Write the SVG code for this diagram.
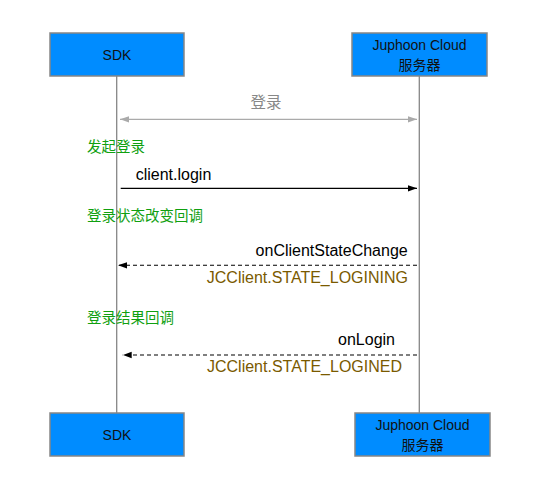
<svg xmlns="http://www.w3.org/2000/svg" width="556" height="492" viewBox="0 0 556 492">
<defs>
<style>
.box{fill:#008cff;stroke:#868686;stroke-width:1.5}
.bt{font-family:"Liberation Sans","Noto Sans CJK SC",sans-serif;font-size:14px;fill:#111;text-anchor:middle}
.life{stroke:#868686;stroke-width:1.3;fill:none}
.msg{font-family:"Liberation Sans","Noto Sans CJK SC",sans-serif;font-size:16px;fill:#000}
.st{font-family:"Liberation Sans","Noto Sans CJK SC",sans-serif;font-size:16px;fill:#7a5a00;text-anchor:end}
.note{font-family:"Noto Sans CJK SC","Liberation Sans",sans-serif;font-size:14.5px;fill:#10a010}
</style>
<marker id="ah" viewBox="0 0 10 10" refX="10" refY="5" markerWidth="9" markerHeight="9" markerUnits="userSpaceOnUse" orient="auto-start-reverse"><path d="M0,1.5 L10,5 L0,8.5 z" fill="#000"/></marker>
<marker id="ahg" viewBox="0 0 10 10" refX="10" refY="5" markerWidth="9" markerHeight="9" markerUnits="userSpaceOnUse" orient="auto-start-reverse"><path d="M0,1.5 L10,5 L0,8.5 z" fill="#aaa"/></marker>
</defs>
<rect width="556" height="492" fill="#fff"/>
<g id="lifelines">
<line class="life" x1="116.7" y1="76" x2="116.7" y2="413"/>
<line class="life" x1="419.3" y1="76" x2="419.3" y2="413"/>
</g>
<g id="sdk-top"><rect class="box" x="50" y="33" width="134" height="43"/><text class="bt" x="117" y="59.5">SDK</text></g>
<g id="server-top"><rect class="box" x="352" y="33" width="135" height="43"/><text class="bt" x="419.5" y="50">Juphoon Cloud</text><text class="bt" x="419.5" y="70">服务器</text></g>
<g id="sdk-bottom"><rect class="box" x="50" y="413" width="134" height="43"/><text class="bt" x="117" y="439.5">SDK</text></g>
<g id="server-bottom"><rect class="box" x="355" y="413" width="135" height="43"/><text class="bt" x="422.5" y="430">Juphoon Cloud</text><text class="bt" x="422.5" y="450">服务器</text></g>
<g id="connectors">
<line x1="120" y1="119.3" x2="417" y2="119.3" stroke="#aaa" stroke-width="1.3" marker-start="url(#ahg)" marker-end="url(#ahg)"/>
<line x1="120.7" y1="188.3" x2="417" y2="188.3" stroke="#000" stroke-width="1.3" marker-end="url(#ah)"/>
<line x1="417" y1="265.3" x2="118" y2="265.3" stroke="#000" stroke-width="1.1" stroke-dasharray="4,3" marker-end="url(#ah)"/>
<line x1="417" y1="355" x2="122.7" y2="355" stroke="#000" stroke-width="1.1" stroke-dasharray="4,3" marker-end="url(#ah)"/>
</g>
<g id="labels">
<text x="266" y="108" font-family="Noto Sans CJK SC,Liberation Sans,sans-serif" font-size="15.5" fill="#888" text-anchor="middle">登录</text>
<text class="note" x="87" y="151.5">发起登录</text>
<text class="msg" x="135.7" y="179.5">client.login</text>
<text class="note" x="87" y="220.5">登录状态改变回调</text>
<text class="msg" x="407.7" y="256" text-anchor="end">onClientStateChange</text>
<text class="st" x="408" y="283">JCClient.STATE_LOGINING</text>
<text class="note" x="87" y="323">登录结果回调</text>
<text class="msg" x="395" y="345" text-anchor="end">onLogin</text>
<text class="st" x="402" y="372">JCClient.STATE_LOGINED</text>
</g>
</svg>
